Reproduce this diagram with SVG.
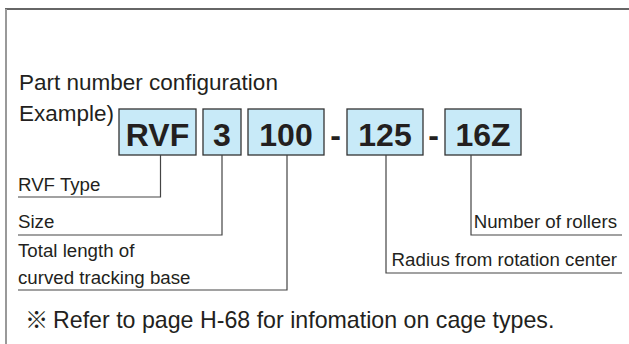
<svg xmlns="http://www.w3.org/2000/svg" width="629" height="344" viewBox="0 0 629 344">
<style>
.t{font-family:"Liberation Sans","Noto Sans CJK JP",sans-serif;fill:#231f20}
.h{font-size:22.5px}
.n{font-size:23.2px}
.s{font-size:18.7px}
.b{font-size:32px;font-weight:bold;text-anchor:middle}
.box{fill:#c8eaf8;stroke:#333;stroke-width:1.3}
.ln{fill:none;stroke:#444;stroke-width:1.2}
</style>
<rect width="629" height="344" fill="#fff"/>
<g id="frame">
<line x1="5" y1="9" x2="629" y2="9" stroke="#333" stroke-width="1.6"/>
<line x1="6" y1="9" x2="6" y2="344" stroke="#999" stroke-width="2"/>
</g>
<g id="title">
<text class="t h" x="19" y="90">Part number configuration</text>
<text class="t h" x="19" y="121">Example)</text>
</g>
<g id="node-rvf">
<rect class="box" x="119" y="109" width="77" height="46"/>
<text class="t b" x="157.5" y="146">RVF</text>
</g>
<g id="node-3">
<rect class="box" x="203" y="109" width="38" height="46"/>
<text class="t b" x="222" y="146">3</text>
</g>
<g id="node-100">
<rect class="box" x="248" y="109" width="76" height="46"/>
<text class="t b" x="286" y="146">100</text>
</g>
<g id="dash1"><text class="t b" x="335.5" y="146">-</text></g>
<g id="node-125">
<rect class="box" x="347" y="109" width="76" height="46"/>
<text class="t b" x="385" y="146">125</text>
</g>
<g id="dash2"><text class="t b" x="433.5" y="146">-</text></g>
<g id="node-16z">
<rect class="box" x="445" y="109" width="76" height="46"/>
<text class="t b" x="483" y="146">16Z</text>
</g>
<g id="connectors">
<polyline class="ln" points="160.5,155 160.5,197 18,197"/>
<polyline class="ln" points="222,155 222,235 18,235"/>
<polyline class="ln" points="287,155 287,290 18,290"/>
<polyline class="ln" points="386,155 386,273 622,273"/>
<polyline class="ln" points="471,155 471,235 622,235"/>
</g>
<g id="labels">
<text class="t s" x="18" y="191">RVF Type</text>
<text class="t s" x="18" y="228">Size</text>
<text class="t s" x="18" y="257">Total length of</text>
<text class="t s" x="18" y="284">curved tracking base</text>
<text class="t s" x="617" y="228" text-anchor="end">Number of rollers</text>
<text class="t s" x="617" y="266" text-anchor="end">Radius from rotation center</text>
</g>
<g id="note">
<text class="t n" x="25" y="328">※<tspan x="53">Refer to page H-68 for infomation on cage types.</tspan></text>
</g>
</svg>
